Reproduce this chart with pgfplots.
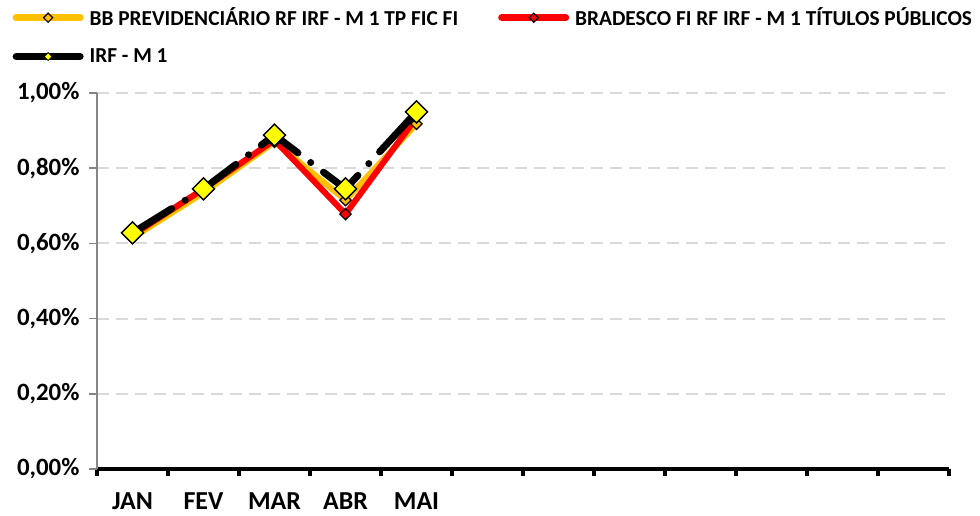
\documentclass[border=0pt]{standalone}
\usepackage{fontspec}
\setmainfont{Carlito}
\usepackage{pgfplots}
\pgfplotsset{compat=1.18}
\definecolor{bbor}{HTML}{FFC000}
\definecolor{brred}{HTML}{FF0000}
\definecolor{irfy}{HTML}{FFFF00}
\definecolor{gridg}{HTML}{D9D9D9}
\definecolor{axg}{HTML}{868686}
\begin{document}
\begin{tikzpicture}
\path[use as bounding box] (-48.5bp,-23.5bp) rectangle (441.5bp,234.5bp);
\begin{axis}[
  at={(0,0)}, anchor=south west,
  scale only axis, width=426bp, height=188bp,
  xmin=0, xmax=12, ymin=0, ymax=1,
  axis lines*=left,
  x axis line style={black, line width=2bp},
  y axis line style={axg, line width=0.75bp},
  xtick={0,1,...,12},
  x tick label as interval,
  xticklabels={JAN,FEV,MAR,ABR,MAI,,,,,,,},
  xtick style={black, line width=2bp, /pgfplots/major tick length=3.5bp},
  ytick={0,0.2,0.4,0.6,0.8,1.0},
  yticklabels={0{,}00\%,0{,}20\%,0{,}40\%,0{,}60\%,0{,}80\%,1{,}00\%},
  ytick style={axg, line width=0.75bp, /pgfplots/major tick length=4bp},
  tick align=outside,
  ymajorgrids,
  major grid style={gridg, line width=1bp, dash pattern=on 6bp off 3.5bp},
  x tick label style={font=\bfseries\fontsize{13}{15}\selectfont, yshift=-4bp},
  y tick label style={font=\bfseries\fontsize{12.5}{14}\selectfont, xshift=-1bp},
  legend columns=2,
  legend style={at={(axis description cs:-0.1065,1.245)}, anchor=north west,
    draw=none, fill=none, font=\bfseries\fontsize{10.7}{12.5}\selectfont,
    nodes={inner sep=1bp},
    /tikz/every odd column/.append style={column sep=2bp},
    /tikz/every even column/.append style={column sep=19bp},
    row sep=8bp},
  legend cell align=left,
  legend image code/.code={\draw[mark repeat=2,mark phase=2,#1] plot coordinates {(0bp,0bp) (16bp,0bp) (32bp,0bp)};},
]
\addlegendimage{bbor, line width=3.5bp, line cap=round, mark=square*, mark options={rotate=45, fill=bbor, draw=black, line width=0.6bp, mark size=1.6bp}}
\addlegendentry{BB PREVIDENCIÁRIO RF IRF - M 1 TP FIC FI}
\addlegendimage{brred, line width=3.5bp, line cap=round, mark=square*, mark options={rotate=45, fill=brred, draw=black, line width=0.6bp, mark size=1.6bp}}
\addlegendentry{BRADESCO FI RF IRF - M 1 TÍTULOS PÚBLICOS}
\addlegendimage{black, line width=3.5bp, line cap=round, mark=square*, mark options={rotate=45, fill=irfy, draw=black, line width=0.4bp, mark size=1.4bp}}
\addlegendentry{IRF - M 1}

\addplot[forget plot, bbor, line width=3bp, mark=square*, mark options={rotate=45, fill=bbor, draw=black, line width=0.6bp, mark size=2bp}]
  coordinates {(0.5,0.615) (1.5,0.735) (2.5,0.870) (3.5,0.715) (4.5,0.918)};
\addplot[forget plot, brred, line width=3bp, mark=square*, mark options={rotate=45, fill=brred, draw=black, line width=0.6bp, mark size=2bp}]
  coordinates {(0.5,0.622) (1.5,0.745) (2.5,0.875) (3.5,0.678) (4.5,0.935)};
\addplot[forget plot, black, line width=3.5bp, line cap=round, dash pattern=on 23bp off 8bp on 0bp off 8bp, mark=square*, mark options={solid, rotate=45, fill=irfy, draw=black, line width=0.7bp, mark size=3.9bp}]
  coordinates {(0.5,0.628) (1.5,0.745) (2.5,0.888) (3.5,0.745) (4.5,0.950)};
\end{axis}
\end{tikzpicture}
\end{document}
